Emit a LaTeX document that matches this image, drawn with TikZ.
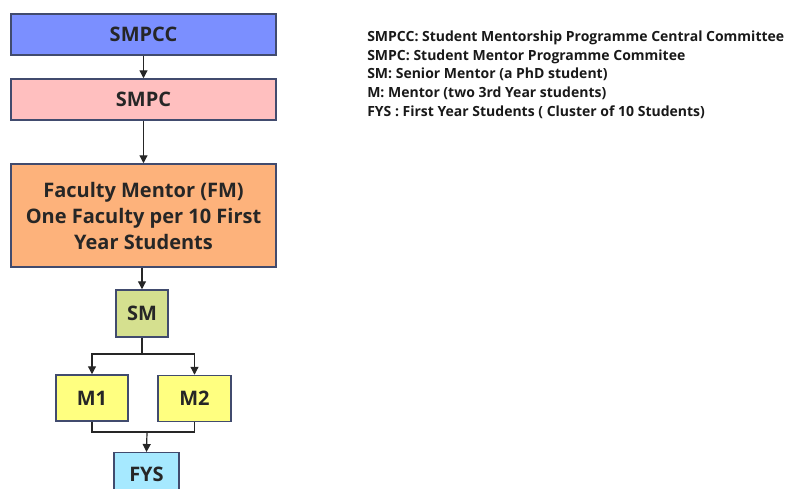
\documentclass[tikz,border=0pt]{standalone}
\usepackage{fontspec}
\setmainfont{Open Sans}
\usetikzlibrary{arrows.meta}
\definecolor{bordc}{HTML}{414B6E}
\definecolor{cA}{HTML}{7B8FFF}
\definecolor{cB}{HTML}{FFBFBF}
\definecolor{cC}{HTML}{FDB27B}
\definecolor{cD}{HTML}{D5E08F}
\definecolor{cE}{HTML}{FFFF80}
\definecolor{cF}{HTML}{A6E9FF}
\tikzset{
  box/.style={draw=bordc, line width=1.1pt, inner sep=0pt, font=\bfseries\fontsize{15}{19.5}\selectfont, text=black!85},
  conn/.style={line width=0.9pt, draw=black!85},
  arr/.style={conn, -{Triangle[length=6pt,width=6pt]}},
}
\begin{document}
\begin{tikzpicture}[x=0.75pt,y=-0.75pt]
\useasboundingbox (0,0) rectangle (790,489);
\clip (0,0) rectangle (790,489);
\node[box, fill=cA, minimum width=265*0.75pt, minimum height=41*0.75pt] (smpcc) at (143.5,34.5) {SMPCC};
\node[box, fill=cB, minimum width=265*0.75pt, minimum height=41*0.75pt] (smpc) at (143.5,99.5) {SMPC};
\node[box, fill=cC, minimum width=265*0.75pt, minimum height=103*0.75pt, align=center] (fm) at (143.5,215.5) {\raisebox{-1.5pt}{\parbox{240\dimexpr0.75pt\relax}{\centering Faculty Mentor (FM)\\One Faculty per 10 First\\Year Students}}};
\node[box, fill=cD, minimum width=52*0.75pt, minimum height=47*0.75pt] (sm) at (142,313.5) {SM};
\node[box, fill=cE, minimum width=72*0.75pt, minimum height=46*0.75pt] (m1) at (92,398) {M1};
\node[box, fill=cE, minimum width=73*0.75pt, minimum height=46*0.75pt] (m2) at (194.5,398.5) {M2};
\node[box, fill=cF, minimum width=65*0.75pt, minimum height=44*0.75pt, anchor=north] (fys) at (146.5,452) {FYS};
\coordinate (split) at (142,354);
\coordinate (join) at (147,432);
\draw[arr] (smpcc.south) -- (smpc.north);
\draw[arr] (smpc.south) -- (smpc.south |- fm.north);
\draw[arr] (fm.south -| sm.north) -- (sm.north);
\draw[conn] (sm.south) -- (split);
\draw[arr] (split) -| (m1.north);
\draw[arr] (split) -| (m2.north);
\draw[conn] (m1.south) |- (join);
\draw[conn] (m2.south) |- (join);
\draw[arr] (join) -- (fys.north);
\node[anchor=north west, align=left, inner sep=0pt, font=\bfseries\fontsize{10.5}{13.9}\selectfont, text=black!90] (legend) at (367,31) {SMPCC: Student Mentorship Programme Central Committee\\SMPC: Student Mentor Programme Commitee\\SM: Senior Mentor (a PhD student)\\M: Mentor (two 3rd Year students)\\FYS : First Year Students ( Cluster of 10 Students)};
\end{tikzpicture}
\end{document}
